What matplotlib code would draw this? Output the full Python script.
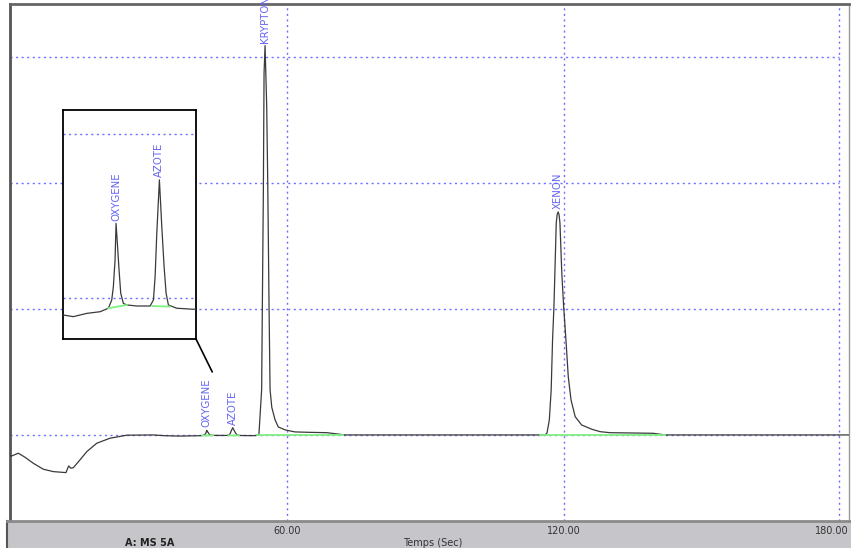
import numpy as np
import matplotlib
matplotlib.use("Agg")
import matplotlib.pyplot as plt
from matplotlib.patches import ConnectionPatch
from matplotlib.transforms import blended_transform_factory

# chromatogram trace (time in s, signal in grid units)
disturb_t = [0.0, 0.37, 1.8, 3.25, 5.05, 7.21, 9.38, 12.13, 12.41, 12.71, 13.15, 13.71,
             15.16, 16.61, 18.78, 21.66, 25.28, 31.04, 33.5]
disturb_y = [-0.165, -0.167, -0.145, -0.177, -0.225, -0.272, -0.291, -0.299, -0.272, -0.246,
             -0.264, -0.260, -0.198, -0.133, -0.066, -0.026, -0.002, 0.0, -0.006]

o2n2_t = [35.74, 37.04, 38.79, 40.52, 41.6, 42.04, 42.25, 42.47, 42.6, 42.77, 42.99, 43.21,
          43.55, 43.99, 45.3, 47.03, 47.46, 47.68, 47.9, 48.24, 48.55, 48.85, 49.11, 49.41,
          50.5, 52.67, 53.0]
o2n2_y = [-0.0083, -0.0091, -0.0075, -0.0067, -0.0050, -0.0010, 0.0055, 0.0185, 0.0364,
          0.0267, 0.0137, 0.0023, -0.0026, -0.0034, -0.0039, -0.0039, -0.0010, 0.0104,
          0.0316, 0.0576, 0.0348, 0.0153, 0.0023, -0.0034, -0.0050, -0.0055, -0.0054]

kr_t = [53.9, 54.5, 54.65, 54.87, 55.02, 55.24, 55.6, 55.82, 55.95, 56.1, 56.32, 56.69,
        57.4, 58.1, 59.6, 61.7, 64.5, 68.6, 72.6]
kr_y = [0.0, 0.36, 1.02, 1.94, 2.87, 3.09, 2.6, 2.0, 1.55, 1.02, 0.36, 0.22,
        0.12, 0.063, 0.04, 0.024, 0.021, 0.018, 0.0]

xe_t = [115.9, 116.3, 116.8, 117.2, 117.5, 117.8, 118.1, 118.3, 118.5, 118.7, 118.9, 119.1,
        119.5, 119.9, 120.4, 120.9, 121.5, 122.4, 123.8, 126.0, 127.8, 129.9, 139.3, 141.9]
xe_y = [0.0, 0.016, 0.119, 0.357, 0.754, 1.018, 1.415, 1.683, 1.75, 1.77, 1.75, 1.683,
        1.286, 1.018, 0.754, 0.463, 0.278, 0.145, 0.079, 0.045, 0.026, 0.018, 0.013, 0.0]

end_t = [181.7]
end_y = [0.0]

# peaks
peak_names = ["OXYGENE", "AZOTE", "KRYPTON", "XENON"]
peak_t = [42.6, 48.24, 55.24, 118.7]
peak_h = [0.0364, 0.0576, 3.09, 1.77]

# integration baselines
base_t0 = [41.6, 47.3, 53.5, 114.8]
base_y0 = [-0.005, -0.0039, 0.0, 0.0]
base_t1 = [44.0, 49.6, 72.1, 141.9]
base_y1 = [-0.0034, -0.0042, 0.0, 0.0]

time_ticks = [60, 120, 180]
tick_labels = ["60.00", "120.00", "180.00"]
signal_grid = [0, 1, 2, 3]
inset_grid = [0.0, 0.08]

t = np.concatenate([disturb_t, o2n2_t, kr_t, xe_t, end_t])
y = np.concatenate([disturb_y, o2n2_y, kr_y, xe_y, end_y])

W, H = 851, 548
fig = plt.figure(figsize=(W / 100, H / 100), dpi=100)
fig.patch.set_facecolor("white")

grid_col = "#7070ff"
lab_col = "#6464f0"
trace_col = "#3a3a3a"
green = "#80f080"
lab_size = 7.3

#main chart
ax = fig.add_axes([10 / W, 27 / H, 839 / W, 517 / H])
ax.set_xlim(0, 181.7)
ax.set_ylim(-0.683, 3.42)
ax.hlines(signal_grid, 0, 179.6, colors=grid_col, linestyles=(0, (1.5, 2.5)), lw=1, zorder=1)
ax.vlines([60, 120, 179.6], -0.683, 3.42, colors=grid_col, linestyles=(0, (1.5, 2.5)), lw=1, zorder=1)
ax.plot(t, y, color=trace_col, lw=0.9, zorder=3)
for i in range(len(base_t0)):
    ax.plot([base_t0[i], base_t1[i]], [base_y0[i], base_y1[i]], color=green, lw=1.3, zorder=4)
for name, pt, ph in zip(peak_names, peak_t, peak_h):
    txt = ax.annotate(name, (pt, ph), xytext=(0, 2.2), textcoords="offset points",
                      rotation=90, ha="center", va="bottom", fontsize=lab_size,
                      color=lab_col, zorder=5, annotation_clip=False)
    txt.set_clip_on(True)
ax.set_xticks([])
ax.set_yticks([])
ax.spines["left"].set_color("#555555")
ax.spines["left"].set_linewidth(2)
ax.spines["top"].set_color("#666666")
ax.spines["top"].set_linewidth(2)
ax.spines["right"].set_color("#999999")
ax.spines["right"].set_linewidth(1)
ax.spines["bottom"].set_visible(False)

# zoom inset on the small peaks
ins = fig.add_axes([63 / W, (H - 339) / H, 133 / W, 229 / H])
ins.set_xlim(35.7, 53.0)
ins.set_ylim(-0.020, 0.0917)
ins.set_facecolor("white")
ins.hlines(inset_grid, 35.7, 53.0, colors=grid_col, linestyles=(0, (1.5, 2.5)), lw=1, zorder=1)
ins.plot(t, y, color=trace_col, lw=0.9, zorder=3)
for i in range(2):
    ins.plot([base_t0[i], base_t1[i]], [base_y0[i], base_y1[i]], color=green, lw=1.3, zorder=4)
for name, pt, ph in zip(peak_names[:2], peak_t[:2], peak_h[:2]):
    ins.annotate(name, (pt, ph), xytext=(0, 2), textcoords="offset points",
                 rotation=90, ha="center", va="bottom", fontsize=lab_size, color=lab_col, zorder=5)
ins.set_xticks([])
ins.set_yticks([])
for s in ins.spines.values():
    s.set_color("black")
    s.set_linewidth(1.3)

con = ConnectionPatch(xyA=(1, 0), coordsA=ins.transAxes, xyB=(43.8, 0.5), coordsB=ax.transData,
                      color="black", lw=1.2)
fig.add_artist(con)

# grey band with the time axis
band = fig.add_axes([7 / W, 0, (W - 7) / W, 27 / H])
band.set_facecolor("#c6c6ca")
band.set_xticks([])
band.set_yticks([])
band.spines["top"].set_color("#8a8a8a")
band.spines["top"].set_linewidth(2)
band.spines["left"].set_color("#555555")
band.spines["left"].set_linewidth(1.5)
band.spines["right"].set_visible(False)
band.spines["bottom"].set_visible(False)

tr = blended_transform_factory(ax.transData, fig.transFigure)
for tk, lab in zip(time_ticks[:2], tick_labels[:2]):
    fig.text(tk, (H - 531) / H, lab, transform=tr, ha="center", va="center",
             fontsize=7, color="#333333")
# last label sits against the right edge
fig.text((W - 2) / W, (H - 531) / H, tick_labels[2], ha="right", va="center",
         fontsize=7, color="#333333")
fig.text(150 / W, (H - 543) / H, "A: MS 5A", ha="center", va="center", fontsize=7,
         fontweight="bold", color="#222222")
fig.text(433 / W, (H - 543) / H, "Temps (Sec)", ha="center", va="center", fontsize=7,
         color="#333333")

fig.savefig("out.png", dpi=100)
